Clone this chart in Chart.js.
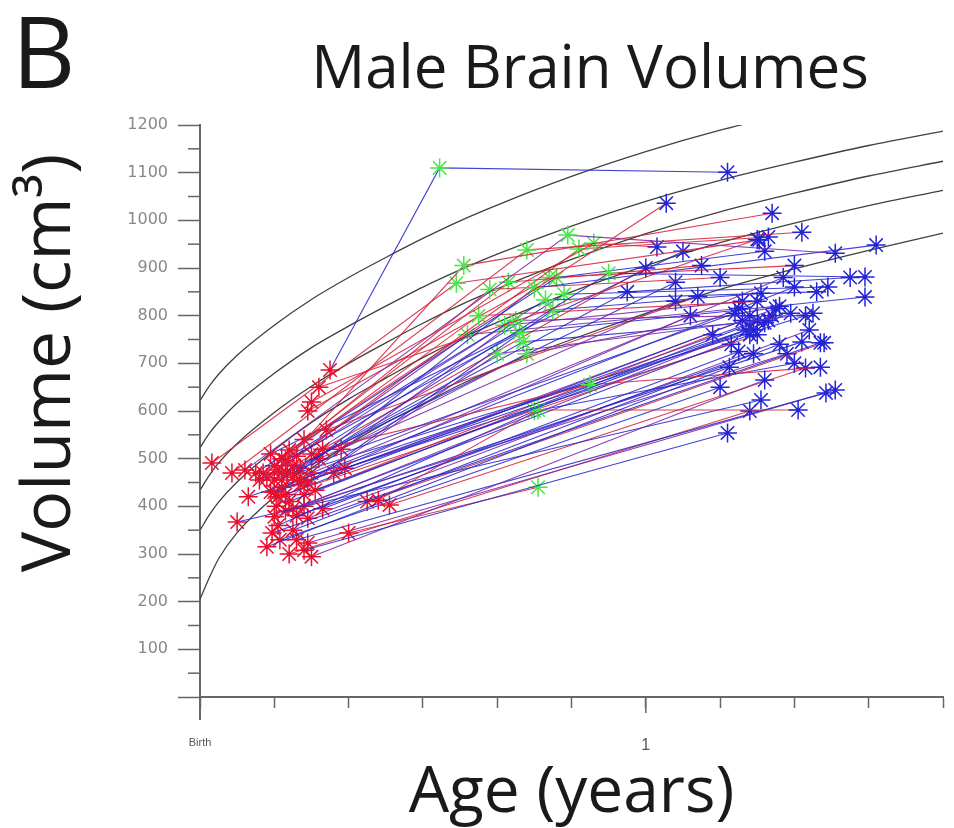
<!DOCTYPE html>
<html><head><meta charset="utf-8">
<script src="https://cdn.jsdelivr.net/npm/chart.js@4/dist/chart.umd.min.js"></script>
<style>html,body{margin:0;padding:0;background:#fff;}canvas{display:block}</style>
</head><body>
<canvas id="c" width="954" height="828"></canvas>
<script>
// ---------- data (ages in months, volumes in cm3) ----------
const curveAges = [0,0.25,0.5,1,2,3,4,5,6,7,8,10,12,14,16,18,20];
const curve1 = [622,652,677,717,780,834,880,922,962,999,1032,1092,1144,1189,1227,1262,1292];
const curve2 = [523,553,577,617,679,733,778,820,860,896,929,988,1040,1084,1122,1157,1187];
const curve3 = [434,465,491,532,597,652,700,743,784,822,856,918,972,1018,1057,1093,1124];
const curve4 = [350,382,409,451,518,576,625,669,712,751,786,850,905,953,994,1031,1063];
const curve5 = [205,250,290,345,420,480,530,575,615,655,690,750,805,855,898,937,973];

const subjectAges = [
 [3.5,6.45,14.2],[2.1,7.1,15.4],[2.4,12.55],[0.32,6.9,15.05],[0.86,8.8,16.2],
 [1.21,9.9,17.1],[2.5,9.0,18.2],[3.0,10.6,12.3],[3.2,15.0],[2.2,11.0,17.9],
 [2.3,8.6,17.9],[2.7,14.4],[2.9,9.5,15.1],[3.1,15.9],[2.05,8.0,16.5],
 [1.94,16.7],[2.0,15.2],[1.8,14.25],[2.8,14.2],[4.0,9.1],
 [3.0,15.2],[4.8,9.1,16.1],[1.0,15.1],[2.6,16.85],[2.9,17.1],
 [3.3,10.5,16.7],[2.5,14.8],[1.7,7.5,15.0],[2.3,14.6],[2.7,8.5,14.8],
 [2.2,7.8,14.0],[2.8,8.3,13.5],[1.5,9.6,15.2],[2.6,10.2,15.3],[2.0,14.9],
 [2.4,15.4],[3.6,15.5],[3.4,13.4],[2.1,9.0,16.0],[2.6,14.9],
 [5.1,16.3],[3.8,8.8,15.6],[2.9,9.4,16.0],[1.9,13.0],[2.2,16.0],
 [3.0,15.7],[2.5,15.6],[4.5,16.8],[2.0,9.3,16.6],[1.6,8.2,14.6],
 [3.3,14.5],[2.8,13.8],[2.35,11.5,17.5],[3.2,12.8],[2.15,14.0],
 [2.4,14.8],[3.9,15.0],[2.9,16.4],[1.3,14.7],[2.2,12.8],
 [2.7,13.2],[2.0,8.7,15.3],[2.6,16.3],[2.1,15.0],[3.0,9.8,16.9],
 [2.3,15.8],[1.9,14.3],[2.5,12.0],[2.8,16.2],[1.8,7.2,14.5]
];
const subjectVolumes = [
 [686,1110,1101],[476,905,1015],[518,1036],[491,868,959],[470,938,975],
 [476,969,931],[461,858,948],[619,952,944],[650,960],[455,889,881],
 [496,764,839],[480,805],[449,812,847],[434,805],[400,720,805],
 [344,743],[378,785],[315,692],[308,554],[344,440],
 [294,665],[413,602,602],[367,623],[330,638],[323,644],
 [520,655,692],[395,760],[470,800,830],[425,790],[455,790,800],
 [500,855,880],[540,870,905],[470,880,935],[505,940,965],[430,770],
 [410,800],[470,815],[560,840],[360,600,700],[380,720],
 [403,690],[520,720,820],[600,880,905],[510,935],[440,860],
 [470,880],[350,740],[410,743],[485,833,850],[455,780,830],
 [395,725],[425,760],[470,850,880],[500,830],[330,650],
 [300,600],[480,790],[375,770],[420,770],[470,870],
 [445,800],[455,745,790],[470,800],[420,760],[510,845,860],
 [390,720],[430,740],[485,900],[400,745],[460,760,815]
];
const subjectLineKinds = "brrrrpbrrbbbbbpbpbbrprbbprbrbprrbrbbprbbrprbbpbrbpbrbpbrbpbbpbbrbpbrbp";

const xTickValues = [0,2,4,6,8,10,12,14,16,18,20];
const xTickLabels = {0:'Birth', 12:'1'};
const yMinorTicks = [50,150,250,350,450,550,650,750,850,950,1050,1150];

// ---------- styles ----------
const lineColors = {r:'rgba(214,34,58,0.88)', b:'rgba(40,40,205,0.88)', p:'rgba(120,40,170,0.88)'};
function markerColor(age){
  if (age < 5.5) return '#e8102e';
  if (age < 11.3) return '#45e845';
  return '#2323d8';
}

const datasets = [];
subjectAges.forEach((ages, i) => {
  datasets.push({
    data: ages.map((a, j) => ({x: a, y: subjectVolumes[i][j]})),
    showLine: true,
    borderColor: lineColors[subjectLineKinds[i]] || lineColors.b,
    borderWidth: 1.1,
    pointStyle: 'star',
    pointRadius: 9.5,
    pointHoverRadius: 9.5,
    pointBorderWidth: 1.5,
    pointBorderColor: ctx => (ctx.raw ? markerColor(ctx.raw.x) : '#2323d8'),
    pointBackgroundColor: 'transparent',
    order: 0
  });
});
[curve1, curve2, curve3, curve4, curve5].forEach(c => {
  datasets.push({
    data: curveAges.map((a, j) => ({x: a, y: c[j]})),
    showLine: true,
    borderColor: '#404040',
    borderWidth: 1.3,
    pointRadius: 0,
    pointHoverRadius: 0,
    cubicInterpolationMode: 'monotone',
    order: 1
  });
});

const extras = {
  id: 'extras',
  afterDraw(chart) {
    const {ctx, scales: {x, y}} = chart;
    ctx.save();
    ctx.strokeStyle = '#666';
    ctx.lineWidth = 1.5;
    yMinorTicks.forEach(v => {
      const py = y.getPixelForValue(v);
      ctx.beginPath(); ctx.moveTo(x.left - 12, py); ctx.lineTo(x.left, py); ctx.stroke();
    });
    const p1 = x.getPixelForValue(12);
    ctx.beginPath(); ctx.moveTo(p1, y.bottom); ctx.lineTo(p1, y.bottom + 16); ctx.stroke();
    ctx.lineWidth = 2;
    ctx.beginPath(); ctx.moveTo(x.left, y.bottom); ctx.lineTo(x.left, y.bottom + 23); ctx.stroke();

    ctx.fillStyle = '#1a1a1a';
    ctx.textBaseline = 'alphabetic';
    ctx.textAlign = 'left';
    ctx.font = '98px "Open Sans"';
    ctx.fillText('B', 12, 88);
    ctx.textAlign = 'center';
    ctx.font = '60px "Open Sans"';
    ctx.fillText('Male Brain Volumes', 590, 88);
    ctx.save();
    ctx.translate(70, 363);
    ctx.rotate(-Math.PI / 2);
    ctx.font = '68px "Open Sans"';
    ctx.fillText('Volume (cm³)', 0, 0);
    ctx.restore();
    ctx.restore();
  }
};

new Chart(document.getElementById('c'), {
  type: 'scatter',
  data: {datasets},
  options: {
    responsive: false,
    animation: false,
    events: [],
    layout: {padding: {top: 125, right: 10, left: 0, bottom: 0}},
    plugins: {legend: {display: false}, tooltip: {enabled: false}, title: {display: false}},
    scales: {
      x: {
        type: 'linear', min: 0, max: 20, position: 'bottom',
        afterFit: s => { s.height = 131; s.paddingLeft = 0; s.paddingRight = 0; },
        afterBuildTicks: s => { s.ticks = xTickValues.map(v => ({value: v})); },
        ticks: {
          autoSkip: false, maxRotation: 0, padding: 28, color: '#555',
          font: ctx => ({family: 'Liberation Sans', size: (ctx.tick && ctx.tick.value === 0) ? 11 : 16}),
          callback: v => (xTickLabels[v] !== undefined ? xTickLabels[v] : '')
        },
        grid: {drawOnChartArea: false, drawTicks: true, tickLength: 11, tickColor: '#666', tickWidth: 1.5},
        border: {display: true, color: '#666', width: 2},
        title: {display: true, text: 'Age (years)', color: '#1a1a1a', font: {family: 'Open Sans', size: 64}, padding: {top: 0, bottom: -4}}
      },
      y: {
        type: 'linear', min: 0, max: 1200,
        afterFit: s => { s.width = 200; },
        ticks: {
          stepSize: 100, padding: 10, color: '#888',
          font: {family: 'DejaVu Sans', size: 16},
          callback: v => (v === 0 ? '' : String(v))
        },
        grid: {drawOnChartArea: false, drawTicks: true, tickLength: 22, tickColor: '#666', tickWidth: 1.5},
        border: {display: true, color: '#666', width: 2}
      }
    }
  },
  plugins: [extras]
});
</script>
</body></html>
